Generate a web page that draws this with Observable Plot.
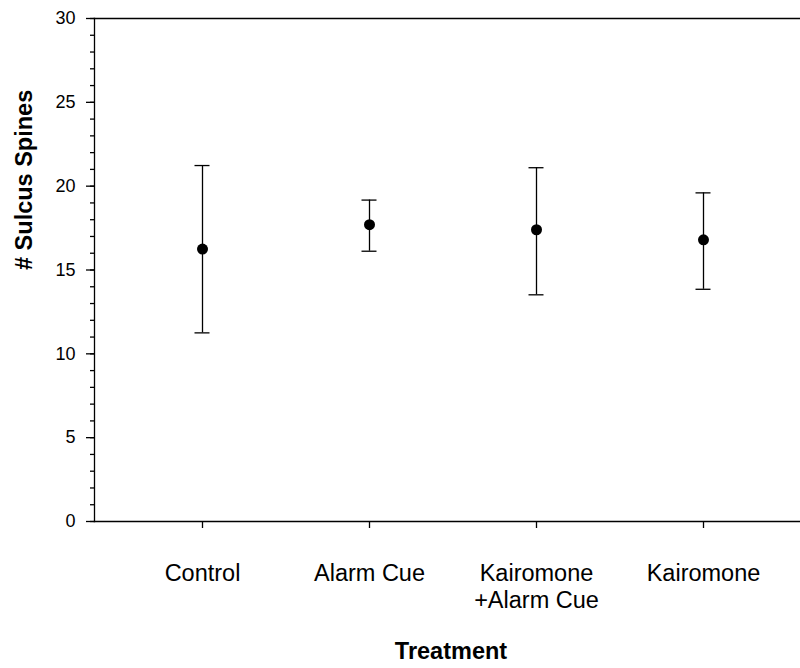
<!DOCTYPE html>
<html>
<head>
<meta charset="utf-8">
<script src="https://cdn.jsdelivr.net/npm/d3@7"></script>
<script src="https://cdn.jsdelivr.net/npm/@observablehq/plot@0.6"></script>
<style>
  html, body { margin: 0; padding: 0; background: #fff; }
  #chart { width: 800px; height: 668px; }
</style>
</head>
<body>
<div id="chart"></div>
<script>
const categories = ["Control", "Alarm Cue", "Kairomone +Alarm Cue", "Kairomone"];
const means = [16.25, 17.7, 17.4, 16.8];
const lower = [11.25, 16.12, 13.52, 13.85];
const upper = [21.23, 19.17, 21.1, 19.6];
const yMajorTicks = [0, 5, 10, 15, 20, 25, 30];
const yMinorTicks = d3.range(0, 31, 1);
const xTitle = "Treatment";
const yTitle = "# Sulcus Spines";

const data = categories.map((c, i) => ({cat: c, mean: means[i], lo: lower[i], hi: upper[i]}));
const font = "'Liberation Sans', Arial, Helvetica, sans-serif";

const chart = Plot.plot({
  width: 800,
  height: 668,
  marginTop: 18,
  marginBottom: 147,
  marginLeft: 94,
  marginRight: 0,
  style: {fontFamily: font, background: "#fff", color: "#000"},
  x: {type: "point", domain: categories, range: [202, 703], padding: 0, axis: null},
  y: {domain: [0, 30], axis: null},
  marks: [
    Plot.axisY({ticks: yMinorTicks, tickSize: 4, tickFormat: () => "", strokeWidth: 1.3, label: null}),
    Plot.axisY({ticks: yMajorTicks, tickSize: 8, tickPadding: 11, fontSize: 18, strokeWidth: 1.3, label: null}),
    Plot.axisX({tickSize: 7, tickPadding: 34, fontSize: 23.5, lineHeight: 1.13, strokeWidth: 1.3, label: null,
      tickFormat: d => d.replace(" +", "\n+")}),
    Plot.frame({anchor: "left", strokeWidth: 1.3}),
    Plot.frame({anchor: "top", strokeWidth: 1.3}),
    Plot.frame({anchor: "bottom", strokeWidth: 1.3}),
    Plot.ruleX(data, {x: "cat", y1: "lo", y2: "hi", stroke: "#000", strokeWidth: 1.3}),
    Plot.ruleY(data, {x1: "cat", x2: "cat", y: "hi", insetLeft: -7.5, insetRight: -7.5, stroke: "#000", strokeWidth: 1.3}),
    Plot.ruleY(data, {x1: "cat", x2: "cat", y: "lo", insetLeft: -7.5, insetRight: -7.5, stroke: "#000", strokeWidth: 1.3}),
    Plot.dot(data, {x: "cat", y: "mean", r: 5.5, fill: "#000", stroke: null}),
    Plot.text([yTitle], {frameAnchor: "left", rotate: -90, dx: -70, fontSize: 23.5, fontWeight: "bold", fill: "#000"}),
    Plot.text([xTitle], {frameAnchor: "bottom", lineAnchor: "bottom", dx: 3.5, dy: 137, fontSize: 23.5, fontWeight: "bold", fill: "#000"})
  ]
});
document.getElementById("chart").appendChild(chart);
</script>
</body>
</html>
